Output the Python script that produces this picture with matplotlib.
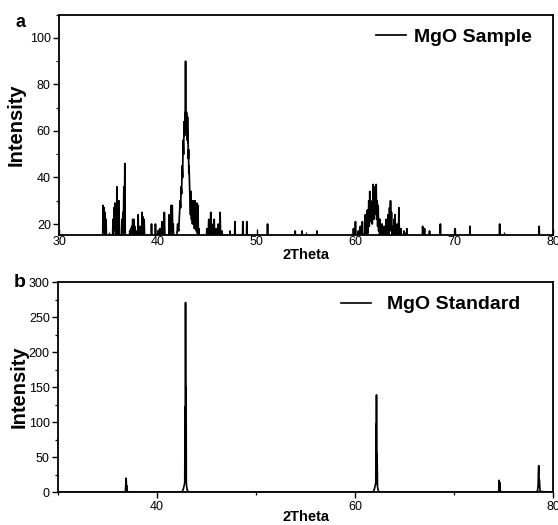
import numpy as np
import matplotlib
matplotlib.use("Agg")
import matplotlib.pyplot as plt
from matplotlib.ticker import MultipleLocator

plt.rcParams['font.family'] = ['Liberation Sans', 'DejaVu Sans']

# MgO sample pattern (2theta, intensity); low points drop below the visible baseline
sample_2theta = [34.0, 34.40, 34.45, 34.50, 34.55, 34.60, 34.65, 34.70, 34.75, 34.80, 34.90,
                 35.40, 35.45, 35.50, 35.55, 35.60, 35.65, 35.70, 35.75, 35.80, 35.85, 35.90, 35.95, 36.00, 36.05, 36.10, 36.15,
                 36.30, 36.35, 36.40, 36.45, 36.50, 36.55, 36.60, 36.65, 36.70,
                 37.10, 37.15, 37.20, 37.25, 37.30, 37.35, 37.40, 37.45, 37.50, 37.55, 37.60, 37.65, 37.75, 37.80, 37.85,
                 37.95, 38.00, 38.05, 38.15, 38.20, 38.25, 38.35, 38.40, 38.45, 38.50, 38.55, 38.60, 38.65, 38.70,
                 39.30, 39.35, 39.40, 39.45, 39.70, 39.75, 39.80, 39.85, 39.95, 40.00, 40.05, 40.15, 40.20, 40.25,
                 40.35, 40.40, 40.45, 40.60, 40.65, 40.70, 40.75, 41.10, 41.15, 41.20, 41.30, 41.35, 41.40, 41.45, 41.50, 41.55, 41.60,
                 41.90, 42.00, 42.10, 42.20, 42.25, 42.30, 42.35, 42.40, 42.45, 42.50, 42.55, 42.60, 42.65, 42.70, 42.75, 42.78,
                 42.80, 42.82, 42.85, 42.88, 42.90, 42.93, 42.95, 42.98, 43.00, 43.03, 43.05, 43.08, 43.10, 43.13, 43.15, 43.20,
                 43.25, 43.30, 43.35, 43.40, 43.45, 43.50, 43.55, 43.60, 43.65, 43.70, 43.75, 43.80, 43.85, 43.90, 43.95,
                 44.00, 44.05, 44.10, 44.15, 44.20, 44.30,
                 44.90, 44.95, 45.00, 45.10, 45.15, 45.20, 45.30, 45.35, 45.40, 45.45, 45.50, 45.55, 45.65, 45.70, 45.75,
                 45.85, 45.90, 45.95, 46.05, 46.10, 46.15, 46.25, 46.30, 46.35, 46.45, 46.50, 46.55,
                 47.25, 47.30, 47.35, 47.75, 47.80, 47.85, 48.55, 48.60, 48.65, 48.95, 49.00, 49.05, 51.05, 51.10, 51.15,
                 53.85, 53.90, 53.95, 54.55, 54.60, 54.65, 56.05, 56.10, 56.15,
                 59.75, 59.80, 59.85, 59.95, 60.00, 60.05, 60.25, 60.30, 60.35, 60.45, 60.50, 60.55, 60.65, 60.70, 60.75,
                 60.95, 61.00, 61.05, 61.15, 61.20, 61.25, 61.30, 61.35, 61.40, 61.45, 61.50, 61.55, 61.60, 61.65, 61.70,
                 61.75, 61.80, 61.85, 61.90, 61.95, 62.00, 62.05, 62.10, 62.15, 62.20, 62.25, 62.30, 62.35, 62.40,
                 62.45, 62.50, 62.55, 62.65, 62.70, 62.75, 62.85, 62.90, 62.95, 63.05, 63.10, 63.15, 63.25, 63.30, 63.35,
                 63.40, 63.45, 63.50, 63.55, 63.60, 63.65, 63.70, 63.75, 63.85, 63.90, 63.95, 64.00, 64.05, 64.15, 64.20, 64.25,
                 64.35, 64.40, 64.45, 64.55, 64.60, 64.65, 64.85, 64.90, 64.95, 65.15, 65.20, 65.25,
                 66.75, 66.80, 66.85, 66.95, 67.00, 67.05, 67.45, 67.50, 67.55, 68.55, 68.60, 68.65,
                 70.05, 70.10, 70.15, 71.55, 71.60, 71.65, 74.55, 74.60, 74.65, 78.55, 78.60, 78.65, 80.0]
sample_intensity = [10, 12, 28, 18, 27, 16, 25, 13, 22, 12, 10,
                    12, 22, 13, 27, 18, 29, 17, 25, 14, 36, 15, 22, 13, 30, 14, 10,
                    12, 22, 14, 25, 16, 36, 17, 46, 10,
                    12, 17, 13, 18, 14, 19, 15, 22, 16, 22, 14, 19, 13, 17, 12,
                    13, 24, 12, 16, 19, 13, 15, 25, 16, 23, 14, 22, 15, 12,
                    12, 20, 13, 12, 12, 20, 13, 12, 12, 17, 13, 14, 18, 12,
                    13, 21, 12, 13, 25, 16, 12, 13, 24, 14, 15, 28, 17, 28, 16, 20, 12,
                    14, 20, 17, 26, 30, 27, 36, 33, 45, 40, 56, 50, 64, 58, 68, 62,
                    90, 62, 66, 60, 68, 58, 62, 56, 66, 55, 60, 48, 52, 42, 45, 37,
                    30, 24, 34, 22, 27, 20, 30, 22, 26, 18, 30, 20, 28, 17, 29,
                    16, 28, 15, 18, 12, 10,
                    12, 18, 14, 16, 22, 14, 17, 25, 15, 20, 14, 18, 16, 22, 13,
                    15, 18, 12, 14, 20, 13, 16, 25, 13, 14, 17, 12,
                    12, 17, 12, 12, 21, 12, 12, 21, 12, 12, 21, 12, 12, 20, 12,
                    12, 17, 12, 12, 17, 12, 12, 17, 12,
                    12, 18, 13, 12, 21, 12, 13, 17, 12, 14, 19, 13, 15, 21, 14,
                    16, 24, 15, 18, 26, 16, 20, 30, 19, 34, 22, 30, 21, 28, 20,
                    26, 37, 22, 33, 24, 36, 25, 37, 22, 30, 19, 28, 17, 22,
                    15, 22, 14, 14, 20, 13, 14, 19, 13, 15, 22, 14, 16, 24, 15,
                    18, 27, 17, 30, 18, 25, 15, 19, 14, 22, 16, 24, 14, 13, 20, 13,
                    15, 27, 14, 13, 18, 12, 12, 17, 12, 12, 18, 12,
                    12, 19, 16, 15, 18, 12, 12, 17, 12, 12, 20, 12,
                    12, 18, 12, 12, 19, 12, 12, 20, 12, 12, 19, 12, 10]

# MgO standard pattern
standard_2theta = [30.0, 36.70, 36.80, 36.85, 36.88, 36.92, 36.95, 37.00, 37.10,
                   42.40, 42.55, 42.65, 42.75, 42.80, 42.83, 42.86, 42.88, 42.91, 42.94, 42.96, 42.99, 43.05, 43.15, 43.30,
                   61.70, 61.85, 61.95, 62.05, 62.10, 62.13, 62.15, 62.17, 62.20, 62.23, 62.28, 62.38, 62.55,
                   74.45, 74.52, 74.55, 74.58, 74.62, 74.70,
                   78.35, 78.45, 78.50, 78.53, 78.56, 78.59, 78.62, 78.70, 80.0]
standard_intensity = [0, 0, 1, 12, 20, 8, 9, 1, 0,
                      0, 1, 4, 10, 14, 122, 14, 271, 15, 150, 14, 9, 3, 1, 0,
                      0, 1, 4, 10, 14, 97, 12, 139, 13, 55, 7, 1, 0,
                      0, 2, 17, 5, 14, 0,
                      0, 3, 10, 28, 38, 8, 18, 1, 0]

fig = plt.figure(figsize=(5.58, 5.25), dpi=100)
ax1 = fig.add_axes([0.106, 0.5525, 0.885, 0.4195])
ax2 = fig.add_axes([0.104, 0.0625, 0.887, 0.400])

ax1.plot(sample_2theta, sample_intensity, color='black', lw=1.25, label='MgO Sample')
ax1.set_xlim(30, 80)
ax1.set_ylim(15.3, 110)
ax1.xaxis.set_major_locator(MultipleLocator(10))
ax1.xaxis.set_minor_locator(MultipleLocator(5))
ax1.yaxis.set_minor_locator(MultipleLocator(10))
ax1.set_yticks([20, 40, 60, 80, 100])

ax2.plot(standard_2theta, standard_intensity, color='black', lw=1.2, label='MgO Standard')
ax2.set_xlim(30, 80)
ax2.set_ylim(0, 300)
ax2.set_xticks([40, 60, 80])
ax2.xaxis.set_minor_locator(MultipleLocator(10))
ax2.yaxis.set_major_locator(MultipleLocator(50))
ax2.yaxis.set_minor_locator(MultipleLocator(25))

for ax in (ax1, ax2):
    for s in ax.spines.values():
        s.set_linewidth(1.3)
    ax.tick_params(which='major', direction='out', length=4, width=1.0, labelsize=9, pad=2)
    ax.tick_params(which='minor', direction='out', length=2, width=0.9)
    ax.set_xlabel('2Theta', fontsize=10.5, fontweight='bold', labelpad=0)

# x ticks of the upper panel point inwards, labels sit right under the axis
ax1.tick_params(axis='x', which='major', direction='in', length=4, pad=1)
ax1.tick_params(axis='x', which='minor', direction='in', length=2)
ax1.set_ylabel('Intensity', fontsize=14.5, fontweight='bold', labelpad=3)
ax2.set_ylabel('Intensity', fontsize=14.5, fontweight='bold', labelpad=0)
ax2.xaxis.labelpad = -2

ax1.legend(loc='center left', bbox_to_anchor=(0.642, 0.898), frameon=False,
           prop={'size': 14, 'weight': 'bold'}, handlelength=1.55, handletextpad=0.4,
           borderpad=0, borderaxespad=0)
ax2.legend(loc='center left', bbox_to_anchor=(0.572, 0.893), frameon=False,
           prop={'size': 14, 'weight': 'bold'}, handlelength=1.55, handletextpad=0.82,
           borderpad=0, borderaxespad=0)

fig.text(0.028, 0.958, 'a', fontsize=13, fontweight='bold', va='center')
fig.text(0.024, 0.461, 'b', fontsize=14, fontweight='bold', va='center')

fig.savefig('out.png', dpi=100)
